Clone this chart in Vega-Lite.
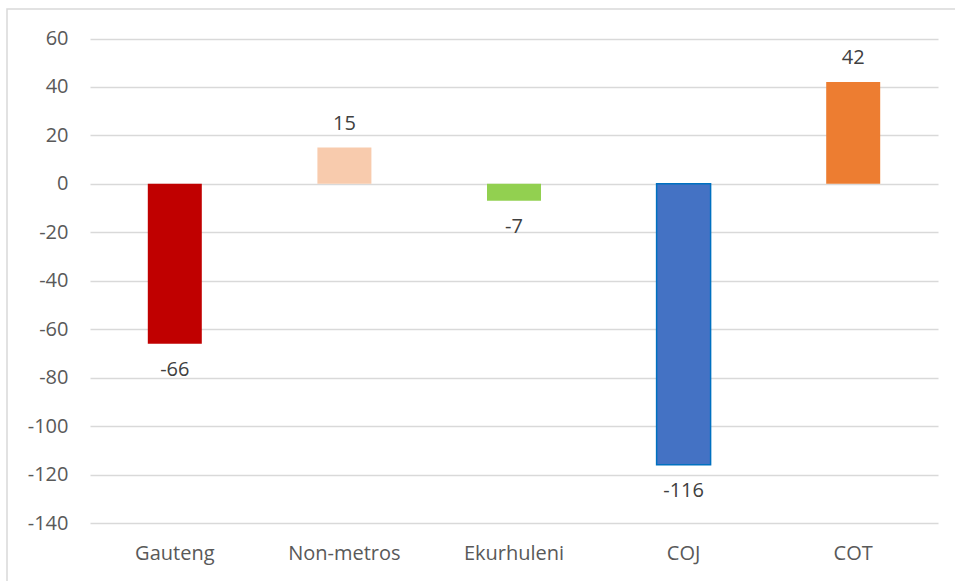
{
  "$schema": "https://vega.github.io/schema/vega-lite/v6.json",
  "autosize": {"type": "none"},
  "padding": {"left": 7, "top": 9, "right": 0, "bottom": 0},
  "width": 951,
  "height": 576,
  "background": "white",
  "config": {
    "view": {"stroke": "#d9d9d9", "strokeWidth": 1.5},
    "font": "Open Sans",
    "text": {"font": "Open Sans", "fontSize": 20, "color": "#404040"}
  },
  "data": {
    "values": [
      {"region": "Gauteng", "change": -66},
      {"region": "Non-metros", "change": 15},
      {"region": "Ekurhuleni", "change": -7},
      {"region": "COJ", "change": -116},
      {"region": "COT", "change": 42}
    ]
  },
  "encoding": {
    "x": {
      "field": "region",
      "type": "nominal",
      "sort": null,
      "title": null,
      "scale": {"range": [83, 931], "paddingInner": 0, "paddingOuter": 0},
      "axis": {
        "orient": "bottom",
        "offset": -62,
        "domain": false,
        "ticks": false,
        "grid": false,
        "labelPadding": 20,
        "labelFont": "Open Sans",
        "labelFontSize": 20,
        "labelColor": "#595959",
        "labelAngle": 0
      }
    },
    "y": {
      "field": "change",
      "type": "quantitative",
      "title": null,
      "scale": {"domain": [-140, 60], "range": [514, 29.5], "nice": false, "zero": false},
      "axis": {
        "orient": "left",
        "offset": -83,
        "values": [-140, -120, -100, -80, -60, -40, -20, 0, 20, 40, 60],
        "labelExpr": "'' + datum.value",
        "domain": false,
        "grid": false,
        "ticks": true,
        "tickSize": -848,
        "tickColor": "#d9d9d9",
        "tickWidth": 1.5,
        "labelPadding": 870,
        "labelFont": "Open Sans",
        "labelFontSize": 20,
        "labelColor": "#595959"
      }
    }
  },
  "layer": [
    {
      "mark": {"type": "bar", "size": 54, "strokeWidth": 1.5},
      "encoding": {
        "y2": {"datum": 0},
        "color": {
          "field": "region",
          "type": "nominal",
          "legend": null,
          "scale": {
            "domain": ["Gauteng", "Non-metros", "Ekurhuleni", "COJ", "COT"],
            "range": ["#C00000", "#F8CBAD", "#92D050", "#4472C4", "#ED7D31"]
          }
        },
        "stroke": {
          "condition": {"test": "datum.region === 'COJ'", "value": "#0070C0"},
          "value": null
        }
      }
    },
    {
      "transform": [{"filter": "datum.change >= 0"}],
      "mark": {"type": "text", "baseline": "bottom", "dy": -14},
      "encoding": {"text": {"field": "change", "type": "nominal"}}
    },
    {
      "transform": [{"filter": "datum.change < 0"}],
      "mark": {"type": "text", "baseline": "top", "dy": 16},
      "encoding": {"text": {"field": "change", "type": "nominal"}}
    }
  ]
}
